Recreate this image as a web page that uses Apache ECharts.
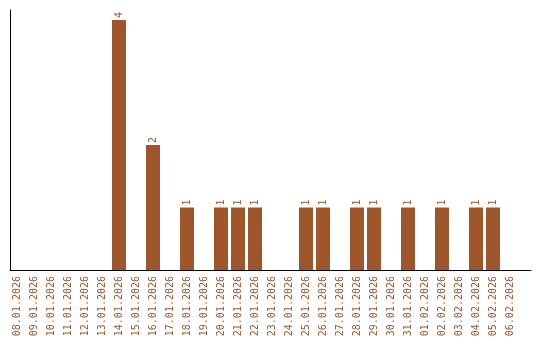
<!DOCTYPE html>
<html><head><meta charset="utf-8">
<script src="https://cdn.jsdelivr.net/npm/echarts@6/dist/echarts.min.js"></script>
<style>html,body{margin:0;padding:0;background:#fff}#c{width:540px;height:340px}</style>
</head><body><div id="c"></div>
<script>
const categories = ["08.01.2026","09.01.2026","10.01.2026","11.01.2026","12.01.2026","13.01.2026","14.01.2026","15.01.2026","16.01.2026","17.01.2026","18.01.2026","19.01.2026","20.01.2026","21.01.2026","22.01.2026","23.01.2026","24.01.2026","25.01.2026","26.01.2026","27.01.2026","28.01.2026","29.01.2026","30.01.2026","31.01.2026","01.02.2026","02.02.2026","03.02.2026","04.02.2026","05.02.2026","06.02.2026"];
const values = [0,0,0,0,0,0,4,0,2,0,1,0,1,1,1,0,0,1,1,0,1,1,0,1,0,1,0,1,1,0];

const brown = '#a0562b';
const chart = echarts.init(document.getElementById('c'), null, {renderer:'canvas'});
chart.setOption({
  animation:false,
  backgroundColor:'#fff',
  grid:[
    {left:8.5, width:510, top:10, bottom:70},
    {left:10, right:9, top:10, bottom:70}
  ],
  xAxis:[
    {type:'category', gridIndex:0, data:categories,
     axisLine:{show:false}, axisTick:{show:false},
     axisLabel:{rotate:90, interval:0, color:brown, fontFamily:'DejaVu Sans Mono', fontSize:10, margin:6}},
    {type:'value', gridIndex:1, min:0, max:1,
     axisLine:{show:true, onZero:false, lineStyle:{color:'#000', width:1}},
     axisTick:{show:false}, axisLabel:{show:false}, splitLine:{show:false}}
  ],
  yAxis:[
    {type:'value', gridIndex:0, min:0, max:4.16,
     axisLine:{show:false}, axisTick:{show:false}, axisLabel:{show:false}, splitLine:{show:false}},
    {type:'value', gridIndex:1, min:0, max:1,
     axisLine:{show:true, lineStyle:{color:'#000', width:1}},
     axisTick:{show:false}, axisLabel:{show:false}, splitLine:{show:false}}
  ],
  series:[{
    type:'bar', xAxisIndex:0, yAxisIndex:0,
    data: values.map(v => v === 0 ? null : v),
    barWidth:14,
    itemStyle:{color:brown},
    label:{show:true, position:'top', rotate:90, align:'left', verticalAlign:'middle', distance:2,
           color:brown, fontFamily:'DejaVu Sans Mono', fontSize:10}
  }]
});
</script>
</body></html>
